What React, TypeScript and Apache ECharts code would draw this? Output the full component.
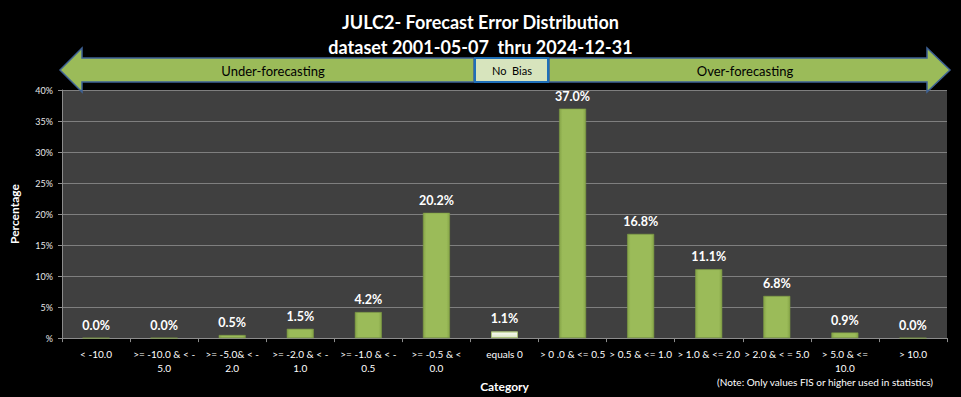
import React, { useEffect, useRef } from "react";
import * as echarts from "echarts";

const categories = [
  "< -10.0",
  ">= -10.0 & < -\n5.0",
  ">= -5.0& < -\n2.0",
  ">= -2.0 & < -\n1.0",
  ">= -1.0 & < -\n0.5",
  ">= -0.5 & <\n0.0",
  "equals 0",
  "> 0 .0 & <= 0.5",
  "> 0.5 & <= 1.0",
  "> 1.0 & <= 2.0",
  "> 2.0 & < = 5.0",
  "> 5.0 & <=\n10.0",
  "> 10.0",
];
const percentages = [0.0, 0.0, 0.5, 1.5, 4.2, 20.2, 1.1, 37.0, 16.8, 11.1, 6.8, 0.9, 0.0];
const noBiasIndex = 6;
const yTicks = { min: 0, max: 40, interval: 5 };

const FONT = "Lato, 'Open Sans', sans-serif";

const greenGrad = new echarts.graphic.LinearGradient(0, 0, 1, 0, [
  { offset: 0, color: "#86A548" },
  { offset: 0.12, color: "#9BBB59" },
  { offset: 0.88, color: "#9BBB59" },
  { offset: 1, color: "#86A548" },
]);
const paleGrad = new echarts.graphic.LinearGradient(0, 0, 0, 1, [
  { offset: 0, color: "#C9D9A8" },
  { offset: 0.3, color: "#F2F6EA" },
  { offset: 1, color: "#DDE8C8" },
]);

export default function App() {
  const ref = useRef<HTMLDivElement>(null);
  useEffect(() => {
    if (!ref.current) return;
    const chart = echarts.init(ref.current, undefined, { renderer: "svg" });
    chart.setOption({
      animation: false,
      backgroundColor: "#000000",
      title: {
        text: "JULC2- Forecast Error Distribution\ndataset 2001-05-07  thru 2024-12-31",
        left: "center",
        top: 4,
        textStyle: {
          color: "#FFFFFF",
          fontFamily: FONT,
          fontWeight: "bold",
          fontSize: 18,
          lineHeight: 25,
        },
      },
      grid: { left: 60, right: 14, top: 90, bottom: 57 },
      xAxis: {
        type: "category",
        data: categories,
        name: "Category",
        nameLocation: "middle",
        nameGap: 37,
        nameTextStyle: { color: "#FFFFFF", fontFamily: FONT, fontWeight: "bold", fontSize: 12 },
        axisLine: { lineStyle: { color: "#8C8C8C", width: 1 } },
        axisTick: { show: true, length: 4, lineStyle: { color: "#8C8C8C" } },
        axisLabel: {
          interval: 0,
          color: "#FFFFFF",
          fontFamily: FONT,
          fontSize: 10,
          lineHeight: 14,
          margin: 9,
        },
      },
      yAxis: {
        type: "value",
        min: yTicks.min,
        max: yTicks.max,
        interval: yTicks.interval,
        name: "Percentage",
        nameLocation: "middle",
        nameGap: 42,
        nameTextStyle: { color: "#FFFFFF", fontFamily: FONT, fontWeight: "bold", fontSize: 12 },
        axisLine: { show: true, lineStyle: { color: "#8C8C8C" } },
        axisTick: { show: true, length: 4, lineStyle: { color: "#8C8C8C" } },
        splitLine: { lineStyle: { color: "#7F7F7F", width: 1 } },
        splitArea: { show: true, areaStyle: { color: ["#404040", "#404040"] } },
        axisLabel: {
          color: "#E8E8E8",
          fontFamily: FONT,
          fontSize: 9,
          margin: 9,
          formatter: (v: number) => (v === 0 ? "%" : v + "%"),
        },
      },
      series: [
        {
          type: "bar",
          barWidth: 27,
          data: percentages.map((v, i) => ({
            value: v,
            itemStyle:
              i === noBiasIndex
                ? { color: paleGrad, borderColor: "#A9C07A", borderWidth: 1 }
                : { color: greenGrad, borderColor: "#7E9C43", borderWidth: 0.6 },
          })),
          label: {
            show: true,
            position: "top",
            distance: 6,
            color: "#FFFFFF",
            fontFamily: FONT,
            fontWeight: "bold",
            fontSize: 12.5,
            formatter: (p: any) => p.value.toFixed(1) + "%",
          },
        },
      ],
      graphic: [
        {
          type: "polygon",
          z: 100,
          shape: {
            points: [
              [60, 70], [82, 48], [82, 58], [474, 58], [474, 82], [82, 82], [82, 92],
            ],
          },
          style: { fill: "#9BBB59", stroke: "#3E6295", lineWidth: 1.5 },
        },
        {
          type: "polygon",
          z: 100,
          shape: {
            points: [
              [549, 58], [927, 58], [927, 48], [950, 70], [927, 92], [927, 82], [549, 82],
            ],
          },
          style: { fill: "#9BBB59", stroke: "#3E6295", lineWidth: 1.5 },
        },
        {
          type: "rect",
          z: 100,
          shape: { x: 475, y: 58, width: 73, height: 24 },
          style: { fill: "#D7E4BD", stroke: "#1F6FB8", lineWidth: 2 },
        },
        {
          type: "text",
          z: 101,
          x: 273,
          y: 71,
          style: {
            text: "Under-forecasting",
            fill: "#000000",
            font: `13px ${FONT}`,
            align: "center",
            verticalAlign: "middle",
          },
        },
        {
          type: "text",
          z: 101,
          x: 745,
          y: 71,
          style: {
            text: "Over-forecasting",
            fill: "#000000",
            font: `13px ${FONT}`,
            align: "center",
            verticalAlign: "middle",
          },
        },
        {
          type: "text",
          z: 101,
          x: 512,
          y: 70,
          style: {
            text: "No  Bias",
            fill: "#000000",
            font: `11px ${FONT}`,
            align: "center",
            verticalAlign: "middle",
          },
        },
        {
          type: "text",
          z: 101,
          x: 825,
          y: 382,
          style: {
            text: "(Note: Only values FIS or higher used in statistics)",
            fill: "#FFFFFF",
            font: `10px ${FONT}`,
            align: "center",
            verticalAlign: "middle",
          },
        },
      ],
    });
    return () => chart.dispose();
  }, []);
  return <div ref={ref} style={{ width: 961, height: 397, position: "fixed", left: 0, top: 0 }} />;
}
